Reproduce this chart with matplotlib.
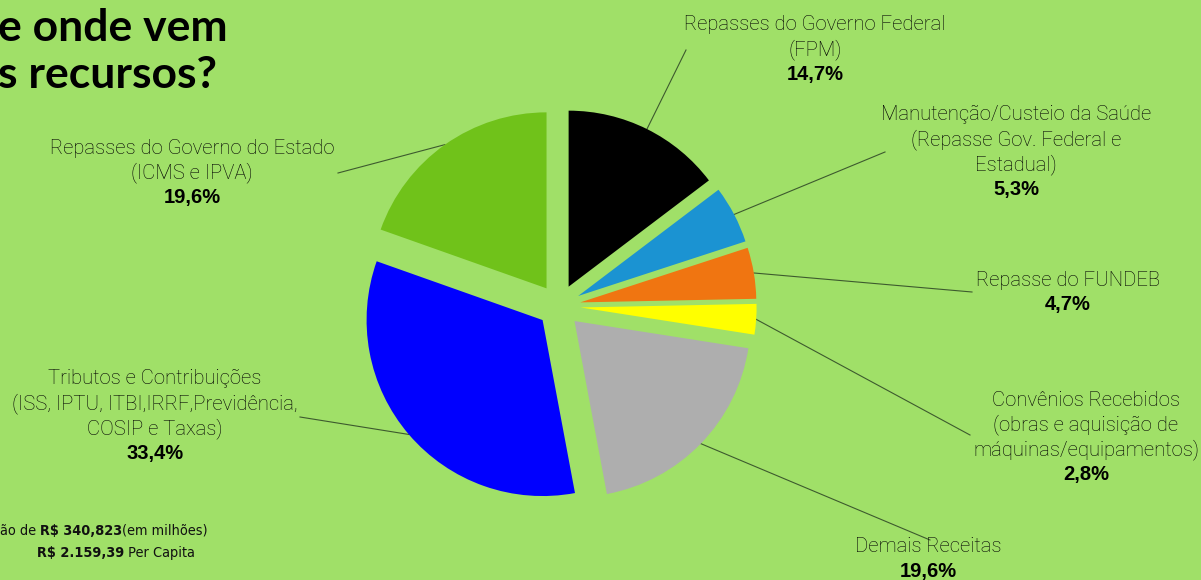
import matplotlib
matplotlib.use("Agg")
import matplotlib.pyplot as plt
import numpy as np

# ---- data ----
categories = [
    ["Repasses do Governo Federal", "(FPM)"],
    ["Manutenção/Custeio da Saúde", "(Repasse Gov. Federal e", "Estadual)"],
    ["Repasse do FUNDEB"],
    ["Convênios Recebidos", "(obras e aquisição de", "máquinas/equipamentos)"],
    ["Demais Receitas"],
    ["Tributos e Contribuições", "(ISS, IPTU, ITBI,IRRF,Previdência,", "COSIP e Taxas)"],
    ["Repasses do Governo do Estado", "(ICMS e IPVA)"],
]
values = [14.7, 5.3, 4.7, 2.8, 19.6, 33.4, 19.6]
colors = ["#000000", "#1B93D2", "#F07511", "#FFFF00", "#AEAEAE", "#0000FF", "#70C21A"]
title_lines = ["e onde vem", "s recursos?"]

W, H = 1201, 580
BG = "#A0E068"

fig = plt.figure(figsize=(W / 100, H / 100), dpi=100)
fig.patch.set_facecolor(BG)
ax = fig.add_axes([0, 0, 1, 1])
ax.set_facecolor(BG)

def Y(y):
    return H - y

center = (559, Y(306))
radius = 176
explode = [21.6] * len(values)

wedges, _ = ax.pie(values, colors=colors, startangle=90, counterclock=False,
                   radius=radius, center=center, explode=explode,
                   wedgeprops=dict(linewidth=0))
for w in wedges:
    w.set_zorder(3)

ax.set_xlim(0, W)
ax.set_ylim(0, H)
ax.set_aspect("equal")
ax.axis("off")

# label layout (center x, first-line y) and leader anchors near the labels
label_pos = {0: (815, 25), 1: (1016, 115), 2: (1068, 280), 3: (1086, 400),
             4: (928, 547), 5: (155, 379), 6: (192, 148)}
anchors = {0: (686, 50), 1: (885, 152), 2: (972, 292), 3: (970, 435),
           4: (930, 540), 5: (300, 417), 6: (338, 173)}

LS = 24.8
light = dict(family=["Roboto", "DejaVu Sans"], weight="light", fontsize=14.6, color="#000000")
bold = dict(family=["Liberation Sans", "DejaVu Sans"], weight="bold", fontsize=14.5, color="#000000")

for i, (w, lines) in enumerate(zip(wedges, categories)):
    cx, y0 = label_pos[i]
    for k, line in enumerate(lines):
        ax.text(cx, Y(y0 + k * LS), line, ha="center", va="center", **light)
    pct = f"{values[i]:.1f}%".replace(".", ",")
    ax.text(cx, Y(y0 + len(lines) * LS), pct, ha="center", va="center", **bold)
    # leader line: from anchor near label to the arc at the wedge bisector
    mid = np.deg2rad((w.theta1 + w.theta2) / 2)
    px = w.center[0] + w.r * np.cos(mid)
    py = w.center[1] + w.r * np.sin(mid)
    axx, ayy = anchors[i]
    ax.plot([axx, px], [Y(ayy), py], color="#3d5a2e", lw=0.8, zorder=2)

# title (cropped at left edge)
tfont = dict(family=["Lato", "DejaVu Sans"], weight="bold", fontsize=32, color="#000000")
ax.text(-2, Y(28), title_lines[0], ha="left", va="center", **tfont)
ax.text(-2, Y(75), title_lines[1], ha="left", va="center", **tfont)

# bottom-left summary text
nsz = 10.4
common = dict(family=["DejaVu Sans"], fontsize=nsz, color="#111111", fontstretch="condensed")
t1 = ax.text(0, Y(535), "ão de ", ha="left", va="baseline", **common)
t2 = ax.annotate("R$ 340,823", xy=(1, 0), xycoords=t1, va="bottom", ha="left",
                 weight="bold", **common)
t3 = ax.annotate("(em milhões)", xy=(1, 0), xycoords=t2, va="bottom", ha="left", **common)
t4 = ax.text(37, Y(557), "R$ 2.159,39", ha="left", va="baseline", weight="bold", **common)
t5 = ax.annotate(" Per Capita", xy=(1, 0), xycoords=t4, va="bottom", ha="left", **common)

fig.savefig("out.png", dpi=100, facecolor=BG)
